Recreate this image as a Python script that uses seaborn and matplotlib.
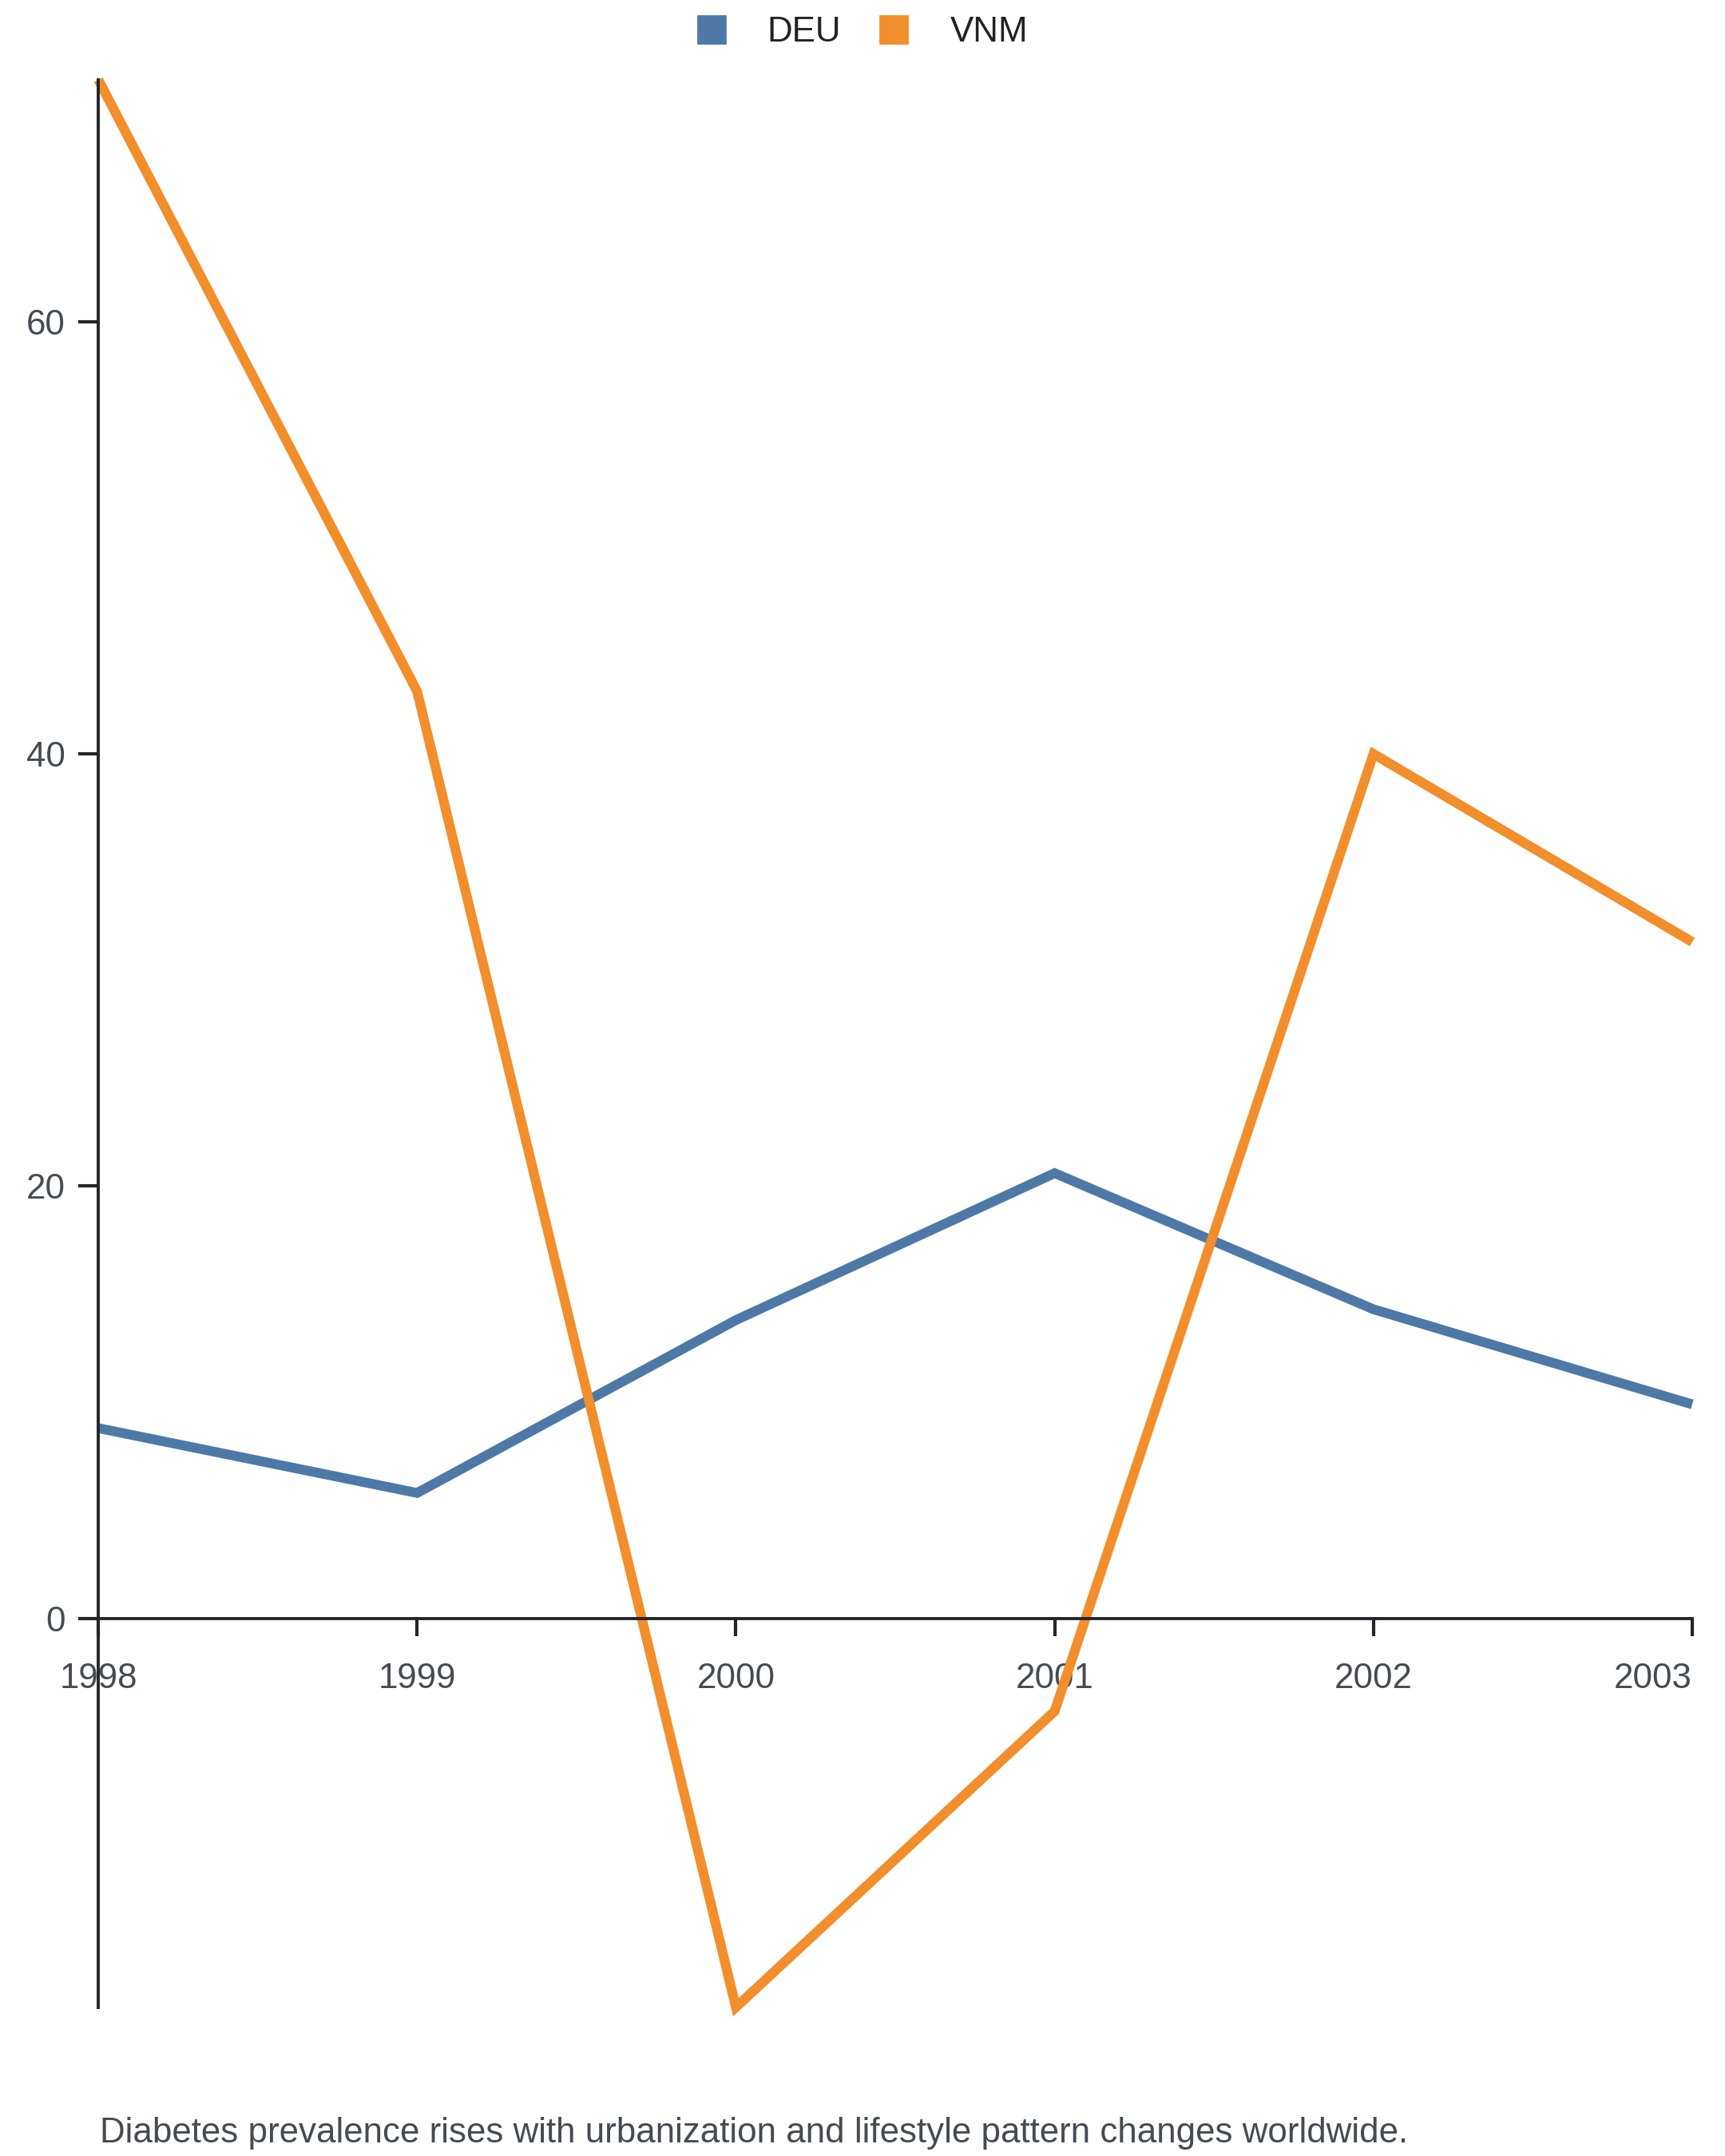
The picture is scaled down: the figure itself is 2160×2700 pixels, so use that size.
import pandas as pd
import matplotlib
matplotlib.use("Agg")
import matplotlib.pyplot as plt
import seaborn as sns
from matplotlib.lines import Line2D

OUTPUT = "out.png"

# values
years = [1998, 1999, 2000, 2001, 2002, 2003]
deu = [8.8, 5.8, 13.8, 20.6, 14.3, 9.9]
vnm = [71.2, 42.9, -18.0, -4.3, 40.0, 31.3]
countries = ["DEU", "VNM"]
colors = ["#4e79a7", "#f28e2b"]
y_ticks = [0, 20, 40, 60]
caption = "Diabetes prevalence rises with urbanization and lifestyle pattern changes worldwide."

TEXT = "#454b52"
AXIS = "#22262a"
FS = 15.8


def main():
    sns.set_theme(style="white")
    plt.rcParams["font.family"] = ["Liberation Sans", "DejaVu Sans"]

    df = pd.DataFrame({
        "year": years * 2,
        "value": deu + vnm,
        "country": ["DEU"] * len(years) + ["VNM"] * len(years),
    })

    fig = plt.figure(figsize=(10.8, 13.5), dpi=200)
    ax = fig.add_axes([0.057, 0.069, 0.924, 0.894])

    sns.lineplot(data=df, x="year", y="value", hue="country",
                 hue_order=countries, palette=colors, linewidth=4.4,
                 legend=False, ax=ax, clip_on=False)
    for ln in ax.lines:
        ln.set_solid_capstyle("butt")
        ln.set_solid_joinstyle("miter")

    ymin = min(deu + vnm)
    ymax = max(deu + vnm)
    ax.set_xlim(years[0], years[-1])
    ax.set_ylim(ymin, ymax)

    # axes: y spine at first year, x spine at zero
    for side in ["top", "right"]:
        ax.spines[side].set_visible(False)
    ax.spines["left"].set_position(("data", years[0]))
    ax.spines["bottom"].set_position(("data", 0))
    for side in ["left", "bottom"]:
        ax.spines[side].set_color(AXIS)
        ax.spines[side].set_linewidth(1.4)

    ax.set_xticks(years)
    ax.set_xticklabels([str(y) for y in years])
    ax.set_yticks(y_ticks)
    ax.set_yticklabels([str(t) for t in y_ticks])
    ax.tick_params(axis="x", bottom=True, direction="out", length=8, width=1.5,
                   color=AXIS, pad=12, labelsize=FS, labelcolor=TEXT)
    ax.tick_params(axis="y", left=True, direction="out", length=9, width=1.5,
                   color=AXIS, pad=6, labelsize=FS, labelcolor=TEXT)
    # last year label sits flush with the axis end
    ax.get_xticklabels()[-1].set_horizontalalignment("right")
    ax.set_xlabel("")
    ax.set_ylabel("")
    ax.grid(False)

    # legend on top, square swatches
    handles = [Line2D([], [], linestyle="none", marker="s", markersize=12.5,
                      markerfacecolor=c, markeredgecolor=c)
               for c in colors]
    fig.legend(handles, countries, loc="center", bbox_to_anchor=(0.5, 0.985),
               ncol=2, frameon=False, fontsize=FS, handlelength=0.8,
               handletextpad=1.2, columnspacing=1.1, labelcolor="#222222")

    fig.text(0.058, 0.0063, caption, ha="left", va="baseline",
             fontsize=FS, color=TEXT)

    fig.savefig(OUTPUT, dpi=200)


if __name__ == "__main__":
    main()
